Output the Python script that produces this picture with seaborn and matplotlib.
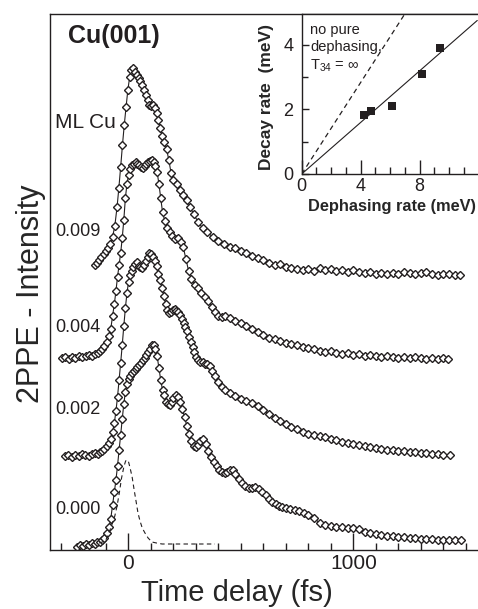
import numpy as np
import pandas as pd
import matplotlib
matplotlib.use("Agg")
import matplotlib.pyplot as plt
from matplotlib.ticker import MultipleLocator, FixedLocator, NullLocator
import seaborn as sns

# ---------------- data ----------------
# Time-resolved 2PPE traces (arbitrary intensity, offset for clarity)
t_009 = [-148,-140,-130,-120,-110,-100,-90,-80,-70,-60,-50,-42,-34,-26,-18,-10,-2,6,14,22,30,38,46,54,62,70,78,86,94,102,110,118,126,134,142,150,160,170,180,190,200,215,230,245,260,275,290,310,330,350,375,400,425,450,475,500,525,550,575,600,625,650,675,700,725,750,775,800,825,850,875,900,925,950,975,1000,1025,1050,1075,1100,1125,1150,1175,1200,1225,1250,1275,1300,1325,1350,1375,1400,1425,1450,1475]
I_009 = [285,287,290,293,296,299,302,306,313,324,343,362,383,405,425,443,460,473,480,482,478,475,472,469,465,460,455,450,445,444,445,442,437,430,422,414,408,401,390,377,370,366,360,355,350,343,336,328,322,318,313,309,306,303,302,299,297,294,292,290,287,285,286,283,282,281,280,281,279,282,280,281,279,280,278,280,278,277,278,276,277,276,277,276,278,277,276,277,278,276,275,276,276,275,275]

t_004 = [-295,-280,-265,-250,-235,-220,-205,-190,-175,-160,-148,-136,-126,-116,-106,-96,-86,-78,-70,-62,-55,-48,-41,-34,-27,-20,-13,-6,1,8,16,24,32,40,48,56,64,72,80,88,96,104,112,120,128,136,144,152,162,172,184,196,208,220,232,244,256,268,280,295,310,325,340,355,370,385,400,415,430,450,475,500,525,550,575,600,625,650,675,700,725,750,775,800,825,850,875,900,925,950,975,1000,1025,1050,1075,1100,1125,1150,1175,1200,1225,1250,1275,1300,1325,1350,1375,1400,1420]
I_004 = [192,193,191,193,192,194,193,194,195,194,196,197,199,201,204,208,214,221,234,246,259,273,285,297,312,330,352,366,375,381,385,386,388,386,385,383,382,384,386,388,389,390,388,384,378,366,352,338,329,322,318,314,311,312,308,303,291,279,271,265,262,257,253,249,243,238,234,233,234,232,229,227,224,221,218,215,212,211,209,207,206,205,203,202,201,199,198,199,197,196,197,195,196,194,195,194,193,194,193,192,193,192,193,192,191,192,191,192,191]

t_002 = [-281,-266,-251,-236,-221,-206,-191,-176,-161,-146,-136,-126,-116,-106,-96,-86,-78,-70,-62,-55,-48,-41,-34,-27,-20,-13,-6,1,8,15,22,30,38,46,54,62,70,78,86,94,102,110,118,126,134,142,150,158,166,174,182,190,198,206,214,222,230,238,246,254,262,270,278,286,294,302,310,320,330,340,350,362,374,386,400,415,430,450,475,500,525,550,575,600,625,650,675,700,725,750,775,800,825,850,875,900,925,950,975,1000,1025,1050,1075,1100,1125,1150,1175,1200,1225,1250,1275,1300,1325,1350,1375,1400,1430]
I_002 = [94,95,93,95,94,96,95,94,96,97,96,98,99,101,104,107,111,118,127,139,153,170,187,205,224,242,257,268,275,279,283,286,288,284,283,282,285,289,293,297,296,293,289,284,276,270,262,254,246,240,237,238,240,241,239,238,235,231,227,223,219,213,208,203,198,193,190,188,188,186,186,184,179,174,168,163,160,157,154,151,149,147,144,140,136,132,129,126,123,121,118,116,115,114,113,111,110,108,107,106,105,104,103,102,101,100,100,99,99,98,98,97,97,96,96,95,95]

t_000 = [-228,-215,-202,-189,-176,-163,-150,-138,-126,-116,-106,-96,-86,-78,-70,-62,-55,-48,-41,-34,-27,-20,-13,-6,1,8,16,24,32,40,48,56,64,72,80,88,96,104,112,120,128,136,144,152,160,168,176,184,192,200,210,220,230,240,250,260,270,280,290,300,310,320,332,344,356,368,380,392,404,416,428,440,452,464,476,490,505,520,535,550,565,580,595,610,625,640,655,670,685,700,720,740,760,780,800,825,850,875,900,925,950,975,1000,1025,1050,1075,1100,1125,1150,1175,1200,1225,1250,1275,1300,1325,1350,1375,1400,1425,1450,1480]
I_000 = [3,5,4,6,5,7,6,8,8,10,12,17,23,31,45,58,70,84,100,115,131,146,158,166,171,174,177,179,181,183,185,187,190,192,195,198,201,205,205,201,194,182,170,160,155,148,146,145,148,152,155,153,148,141,133,124,116,109,104,103,105,109,111,106,99,93,88,84,80,78,77,78,80,80,76,71,67,64,62,62,63,61,58,55,51,48,46,44,43,42,41,40,39,37,35,32,27,25,24,23,23,22,22,21,18,17,16,15,14,14,13,13,12,12,11,11,11,10,10,10,10,10]

# Pulse cross-correlation (dashed)
t_xc = [-130,-115,-100,-86,-72,-60,-50,-40,-30,-20,-12,-6,0,8,17,26,35,43,52,62,74,88,105,125,150,180,220,260,300,340,385]
I_xc = [7,8,10,17,26,34,44,57,72,83,89,90,89,82,73,60,48,37,29,22,17,12,8,7,6,6,6,6,6,6,6]

coverage_labels = ["0.009", "0.004", "0.002", "0.000"]

# Inset: decay rate vs dephasing rate (meV)
deph_rate = [4.22, 4.70, 6.10, 8.18, 9.36]
decay_rate = [1.83, 1.95, 2.11, 3.10, 3.92]
fit_x = [0.0, 11.9]
fit_y = [0.0, 4.76]
nopure_x = [0.0, 7.0]
nopure_y = [0.0, 4.97]

# ---------------- style ----------------
sns.set_style("ticks")
plt.rcParams['font.family'] = ['Liberation Sans', 'DejaVu Sans']
plt.rcParams['mathtext.fontset'] = 'custom'
plt.rcParams['mathtext.rm'] = 'Liberation Sans'
plt.rcParams['mathtext.it'] = 'Liberation Sans'
plt.rcParams['axes.linewidth'] = 1.0
plt.rcParams['axes.edgecolor'] = '#231f20'
plt.rcParams['text.color'] = '#231f20'
plt.rcParams['xtick.color'] = '#231f20'
plt.rcParams['ytick.color'] = '#231f20'

W, H = 478, 609
fig = plt.figure(figsize=(W / 100, H / 100), dpi=100)

# main axes: px box left=50, right=478, top=14, bottom=550
ax = fig.add_axes([50 / W, 1 - 550 / H, (478 - 50) / W, (550 - 14) / H])

ink = '#231f20'
mk = dict(marker='D', markersize=3.9, markerfacecolor='white',
          markeredgecolor=ink, markeredgewidth=1.0)

for t, I in [(t_009, I_009), (t_004, I_004), (t_002, I_002), (t_000, I_000)]:
    df = pd.DataFrame({"t": t, "I": I})
    sns.lineplot(data=df, x="t", y="I", ax=ax, color=ink, linewidth=0.8,
                 estimator=None, sort=False, **mk)

dfx = pd.DataFrame({"t": t_xc, "I": I_xc})
sns.lineplot(data=dfx, x="t", y="I", ax=ax, color=ink, linewidth=0.8,
             linestyle=(0, (4, 3)), estimator=None, sort=False)

ax.set_xlim(-348, 1554)
ax.set_ylim(0, 536)
ax.xaxis.set_major_locator(FixedLocator([0, 1000]))
ax.xaxis.set_minor_locator(MultipleLocator(100))
ax.yaxis.set_major_locator(NullLocator())
ax.tick_params(axis='x', which='major', direction='in', length=12, width=1.0,
               labelsize=15, pad=3, top=False)
ax.tick_params(axis='x', which='minor', direction='in', length=5, width=1.0, top=False)
ax.spines['right'].set_visible(False)

ax.set_xlabel("Time delay (fs)", fontsize=21, va='center')
ax.xaxis.set_label_coords((237 - 50) / 428, (550 - 593) / 536)
ax.set_ylabel("2PPE - Intensity", fontsize=22, va='center')
ax.yaxis.set_label_coords((31 - 50) / 428, (550 - 294) / 536)

ax.text((68 - 50) / 428, (550 - 36) / 536, "Cu(001)", transform=ax.transAxes,
        fontsize=18, fontweight='bold', ha='left', va='center')
ax.text((55 - 50) / 428, (550 - 123) / 536, "ML Cu", transform=ax.transAxes,
        fontsize=15, ha='left', va='center')
label_y = [232, 328, 410, 510]
for lab, yp in zip(coverage_labels, label_y):
    ax.text((55 - 50) / 428, (550 - yp) / 536, lab, transform=ax.transAxes,
            fontsize=13, ha='left', va='center')

# inset axes: px box left=301.7, right=478, top=14, bottom=174
axi = fig.add_axes([301.7 / W, 1 - 174 / H, (478 - 301.7) / W, (174 - 14) / H])
axi.set_facecolor('white')
sns.lineplot(x=fit_x, y=fit_y, ax=axi, color=ink, linewidth=0.8)
sns.lineplot(x=nopure_x, y=nopure_y, ax=axi, color=ink, linewidth=0.9,
             linestyle=(0, (4, 3)))
sns.scatterplot(x=deph_rate, y=decay_rate, ax=axi, marker='s', s=30,
                color=ink, edgecolor=ink, linewidth=0, zorder=5)
axi.set_xlim(0, 11.95)
axi.set_ylim(0, 4.96)
axi.xaxis.set_major_locator(FixedLocator([0, 4, 8]))
axi.xaxis.set_minor_locator(MultipleLocator(1))
axi.yaxis.set_major_locator(FixedLocator([0, 2, 4]))
axi.yaxis.set_minor_locator(FixedLocator([1, 3]))
axi.tick_params(axis='x', which='major', direction='in', length=10, width=1.0,
                labelsize=13, pad=3, top=False)
axi.tick_params(axis='x', which='minor', direction='in', length=5, width=1.0, top=False)
axi.tick_params(axis='y', which='major', direction='in', length=5, width=1.0,
                labelsize=13, pad=6, right=False)
axi.tick_params(axis='y', which='minor', direction='in', length=4, width=1.0, right=False)
axi.spines['right'].set_visible(False)

axi.set_xlabel("Dephasing rate (meV)", fontsize=11.8, fontweight='bold', va='center')
axi.xaxis.set_label_coords((392 - 301.7) / 176.3, (174 - 206) / 160)
axi.set_ylabel("Decay rate  (meV)", fontsize=12.5, fontweight='bold', va='center')
axi.yaxis.set_label_coords((266 - 301.7) / 176.3, (174 - 97) / 160)

tx = (310 - 301.7) / 176.3
axi.text(tx, (174 - 30) / 160, "no pure", transform=axi.transAxes,
         fontsize=10.5, ha='left', va='center')
axi.text(tx, (174 - 47) / 160, "dephasing,", transform=axi.transAxes,
         fontsize=10.5, ha='left', va='center')
axi.text(tx, (174 - 66) / 160, r"T$_{34}$ = ∞", transform=axi.transAxes,
         fontsize=10.5, ha='left', va='center')

fig.savefig("out.png", dpi=100)
